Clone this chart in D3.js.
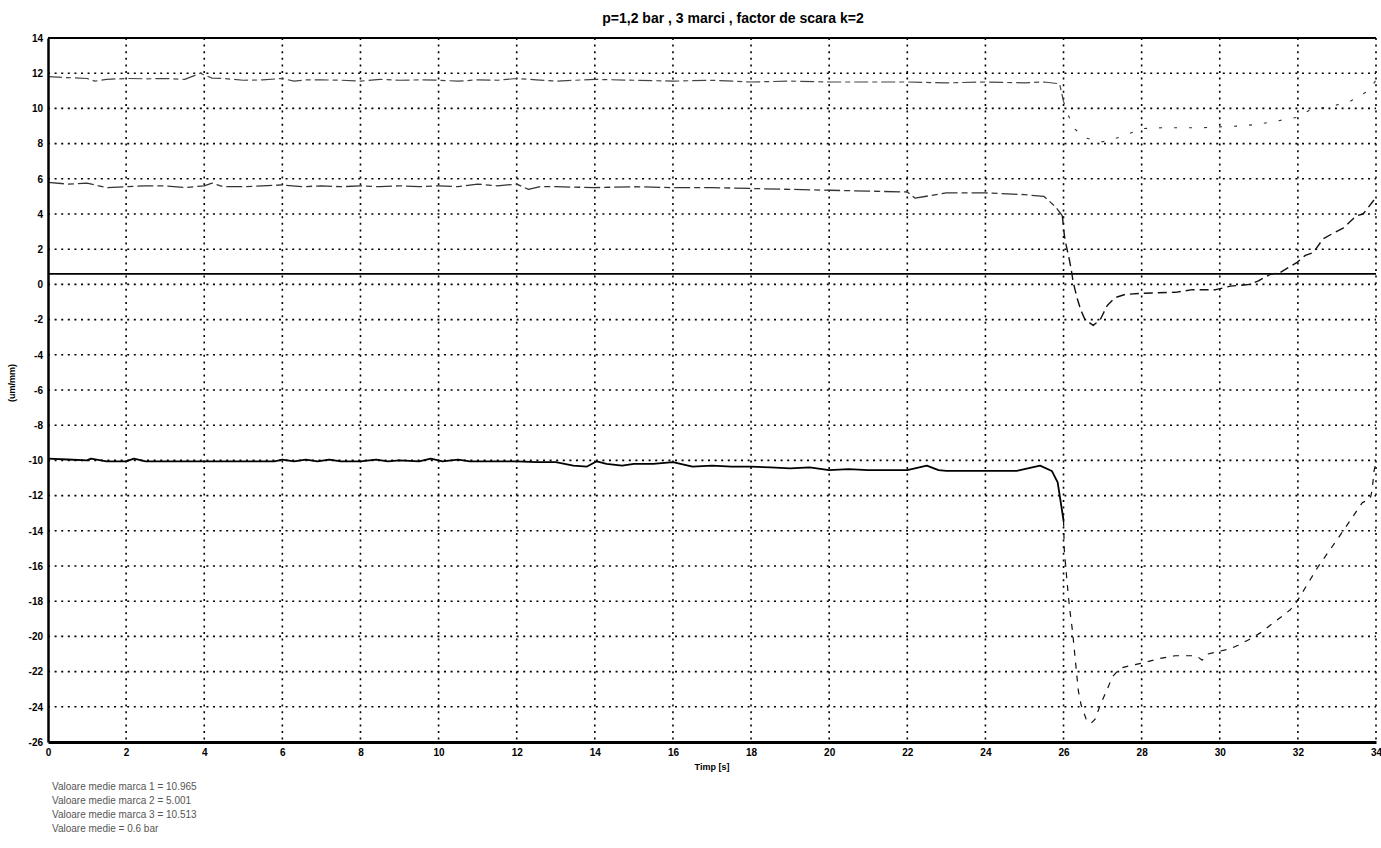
<!DOCTYPE html>
<html>
<head>
<meta charset="utf-8">
<script src="https://cdn.jsdelivr.net/npm/d3@7"></script>
<style>
  html, body { margin: 0; padding: 0; background: #fff; }
  svg { display: block; font-family: "Liberation Sans", Arial, sans-serif; }
</style>
</head>
<body>
<svg id="chart" width="1381" height="848"></svg>
<script>
// Strain readings of the three gauges (marci), time in seconds, values in um/mm
const timeTicks = [0, 2, 4, 6, 8, 10, 12, 14, 16, 18, 20, 22, 24, 26, 28, 30, 32, 34];
const strainTicks = [-26, -24, -22, -20, -18, -16, -14, -12, -10, -8, -6, -4, -2, 0, 2, 4, 6, 8, 10, 12, 14];

const marca1T = [0, 0.5, 1, 1.2, 1.5, 2, 2.5, 3, 3.5, 3.9, 4.2, 4.5, 5, 5.5, 6, 6.3, 6.6, 7, 7.5, 8, 8.5, 9, 9.5, 10, 10.5, 11, 11.5, 12, 12.5, 13, 13.5, 14, 15, 16, 17, 18, 19, 20, 21, 22, 23, 24, 25, 25.5, 25.9, 26.0, 26.1, 26.3, 26.6, 27, 27.5, 28, 28.5, 29, 29.5, 30, 30.5, 31, 31.5, 32, 32.3, 32.8, 33.3, 33.8, 34];
const marca1V = [11.8, 11.75, 11.7, 11.55, 11.65, 11.7, 11.68, 11.7, 11.65, 12.0, 11.72, 11.7, 11.6, 11.62, 11.7, 11.55, 11.62, 11.62, 11.6, 11.55, 11.65, 11.6, 11.62, 11.6, 11.55, 11.62, 11.6, 11.7, 11.62, 11.55, 11.6, 11.65, 11.6, 11.55, 11.6, 11.5, 11.55, 11.5, 11.5, 11.5, 11.45, 11.5, 11.45, 11.5, 11.4, 10.4, 9.7, 8.8, 8.3, 8.1, 8.4, 8.85, 8.9, 8.9, 8.9, 8.95, 9.0, 9.1, 9.3, 9.5, 9.9, 10.1, 10.35, 11.0, 11.6];

const marca2T = [0, 0.5, 1, 1.5, 2, 2.5, 3, 3.5, 4, 4.2, 4.5, 5, 5.5, 6, 6.5, 7, 7.5, 8, 8.5, 9, 9.5, 10, 10.5, 11, 11.5, 12, 12.3, 12.6, 13, 14, 15, 16, 17, 18, 19, 20, 21, 22, 22.2, 23, 24, 25, 25.5, 25.8, 25.97, 26.02, 26.07, 26.15, 26.2, 26.25, 26.3, 26.35, 26.45, 26.55, 26.76, 26.94, 27.12, 27.32, 27.58, 28.04, 28.86, 29.3, 29.9, 30.27, 30.78, 30.99, 31.29, 31.55, 31.98, 32.19, 32.39, 32.65, 32.9, 33.16, 33.5, 33.67, 33.95, 34];
const marca2V = [5.8, 5.7, 5.75, 5.5, 5.55, 5.6, 5.6, 5.5, 5.6, 5.75, 5.55, 5.55, 5.6, 5.65, 5.55, 5.6, 5.55, 5.6, 5.55, 5.6, 5.55, 5.6, 5.55, 5.7, 5.6, 5.7, 5.4, 5.55, 5.55, 5.5, 5.55, 5.5, 5.5, 5.45, 5.4, 5.35, 5.3, 5.25, 4.9, 5.2, 5.2, 5.1, 5.0, 4.4, 3.9, 2.8, 2.2, 1.4, 0.8, 0.1, -0.35, -0.8, -1.5, -2.0, -2.33, -2.0, -1.2, -0.75, -0.57, -0.5, -0.45, -0.3, -0.3, -0.1, 0.0, 0.2, 0.57, 0.68, 1.25, 1.65, 1.8, 2.6, 2.9, 3.2, 3.9, 4.0, 4.8, 5.0];

const marca3T = [0, 0.5, 1, 1.1, 1.5, 2, 2.2, 2.5, 3, 4, 5, 5.8, 6, 6.3, 6.6, 6.9, 7.2, 7.5, 8, 8.4, 8.7, 9, 9.5, 9.8, 10.1, 10.5, 10.8, 11.5, 12, 12.5, 13, 13.45, 13.8, 14.05, 14.3, 14.7, 15, 15.5, 16, 16.5, 17, 17.5, 18, 18.5, 19, 19.5, 20, 20.5, 21, 22, 22.5, 22.8, 23, 24, 24.8, 25.2, 25.4, 25.7, 25.85, 26.0, 26.02, 26.07, 26.15, 26.23, 26.3, 26.38, 26.45, 26.58, 26.7, 26.81, 26.94, 27.1, 27.25, 27.45, 27.83, 28.04, 28.47, 28.86, 29.4, 29.55, 29.7, 29.98, 30.27, 30.47, 30.73, 31.04, 31.8, 31.98, 32.5, 33.16, 33.65, 33.85, 33.9, 33.95, 34];
const marca3V = [-9.9, -9.95, -10.0, -9.9, -10.05, -10.05, -9.9, -10.05, -10.05, -10.05, -10.05, -10.05, -9.95, -10.05, -9.95, -10.05, -9.95, -10.05, -10.05, -9.95, -10.05, -10.0, -10.05, -9.9, -10.05, -9.95, -10.05, -10.05, -10.05, -10.1, -10.1, -10.3, -10.35, -10.05, -10.2, -10.3, -10.2, -10.2, -10.1, -10.35, -10.3, -10.35, -10.35, -10.4, -10.45, -10.4, -10.55, -10.5, -10.55, -10.55, -10.3, -10.55, -10.6, -10.6, -10.6, -10.4, -10.3, -10.6, -11.25, -13.4, -15.1, -16.4, -18.3, -19.7, -21.3, -23.1, -23.9, -24.7, -24.95, -24.7, -23.9, -23.1, -22.3, -21.8, -21.6, -21.5, -21.25, -21.1, -21.1, -21.35, -21.0, -20.85, -20.7, -20.5, -20.2, -19.8, -18.5, -18.0, -16.1, -14.0, -12.4, -12.2, -11.7, -10.6, -10.1];

const eventTime = 26;          // pressure step, after which the traces are drawn broken
const meanPressure = 0.6;      // bar, drawn as the horizontal reference line
const titleText = "p=1,2 bar , 3 marci , factor de scara k=2";
const xTitle = "Timp [s]";
const yTitle = "(um/mm)";
const summaryLines = [
  "Valoare medie marca 1  = 10.965",
  "Valoare medie marca 2 = 5.001",
  "Valoare medie marca 3 = 10.513",
  "Valoare medie =  0.6 bar"
];

const svg = d3.select("#chart");
const plot = { left: 48, right: 1376, top: 38, bottom: 742 };

const x = d3.scaleLinear().domain([0, 34]).range([plot.left, plot.right]);
const y = d3.scaleLinear().domain([-26, 14]).range([plot.bottom, plot.top]);

// dotted grid
const grid = svg.append("g").attr("stroke", "#000").attr("stroke-width", 1.6)
  .attr("stroke-dasharray", "2,4.6");
grid.selectAll(".gx").data(timeTicks.filter(d => d > 0)).join("line")
  .attr("class", "gx")
  .attr("x1", d => x(d)).attr("x2", d => x(d))
  .attr("y1", plot.top).attr("y2", plot.bottom);
grid.selectAll(".gy").data(strainTicks.filter(d => d > -26 && d < 14)).join("line")
  .attr("class", "gy")
  .attr("x1", plot.left).attr("x2", plot.right)
  .attr("y1", d => y(d)).attr("y2", d => y(d));

// top frame
svg.append("line")
  .attr("x1", plot.left).attr("x2", plot.right)
  .attr("y1", plot.top).attr("y2", plot.top)
  .attr("stroke", "#000").attr("stroke-width", 2);

// mean pressure line
svg.append("line")
  .attr("x1", plot.left).attr("x2", plot.right)
  .attr("y1", y(meanPressure)).attr("y2", y(meanPressure))
  .attr("stroke", "#000").attr("stroke-width", 1.6);

const toPoints = (ts, vs) => ts.map((t, i) => ({ t, v: vs[i] }));
const line = d3.line().x(d => x(d.t)).y(d => y(d.v));

const s1 = toPoints(marca1T, marca1V);
const s2 = toPoints(marca2T, marca2V);
const s3 = toPoints(marca3T, marca3V);

const traces = svg.append("g").attr("fill", "none").attr("stroke-linejoin", "round");

traces.append("path").datum(s1.filter(d => d.t <= eventTime))
  .attr("d", line).attr("stroke", "#444").attr("stroke-width", 1.2)
  .attr("stroke-dasharray", "14,4,5,4");
traces.append("path").datum(s1.filter(d => d.t >= eventTime))
  .attr("d", line).attr("stroke", "#333").attr("stroke-width", 1.1)
  .attr("stroke-dasharray", "3,12");

traces.append("path").datum(s2.filter(d => d.t <= eventTime))
  .attr("d", line).attr("stroke", "#333").attr("stroke-width", 1.3)
  .attr("stroke-dasharray", "16,4,6,4");
traces.append("path").datum(s2.filter(d => d.t >= eventTime - 0.1))
  .attr("d", line).attr("stroke", "#111").attr("stroke-width", 1.4)
  .attr("stroke-dasharray", "9,5");

traces.append("path").datum(s3.filter(d => d.t <= eventTime))
  .attr("d", line).attr("stroke", "#000").attr("stroke-width", 1.8);
traces.append("path").datum(s3.filter(d => d.t >= eventTime))
  .attr("d", line).attr("stroke", "#111").attr("stroke-width", 1.2)
  .attr("stroke-dasharray", "6,7");

// axes
const yAxis = d3.axisLeft(y).tickValues(strainTicks).tickFormat(d => String(d))
  .tickSize(0).tickPadding(5);
const gy = svg.append("g").attr("transform", `translate(${plot.left},0)`).call(yAxis);
gy.select(".domain").attr("stroke", "#000").attr("stroke-width", 2.5);
gy.selectAll("text").attr("font-size", 10).attr("font-weight", "bold").attr("fill", "#000");

const xAxis = d3.axisBottom(x).tickValues(timeTicks).tickFormat(d => String(d))
  .tickSize(0).tickPadding(7);
const gx = svg.append("g").attr("transform", `translate(0,${plot.bottom})`).call(xAxis);
gx.select(".domain").attr("stroke", "#000").attr("stroke-width", 3);
gx.selectAll("text").attr("font-size", 10).attr("font-weight", "bold").attr("fill", "#000");

// titles
svg.append("text").attr("x", 733).attr("y", 23).attr("text-anchor", "middle")
  .attr("font-size", 14).attr("font-weight", "bold").text(titleText);
svg.append("text").attr("x", (plot.left + plot.right) / 2).attr("y", 770)
  .attr("text-anchor", "middle").attr("font-size", 9).attr("font-weight", 600).text(xTitle);
svg.append("text").attr("transform", "translate(15,383) rotate(-90)")
  .attr("text-anchor", "middle").attr("font-size", 9).attr("font-weight", 600).text(yTitle);

// summary of mean values
svg.append("g").selectAll("text").data(summaryLines).join("text")
  .attr("x", 52).attr("y", (d, i) => 790 + i * 14)
  .attr("font-size", 10).attr("fill", "#555").text(d => d);
</script>
</body>
</html>
